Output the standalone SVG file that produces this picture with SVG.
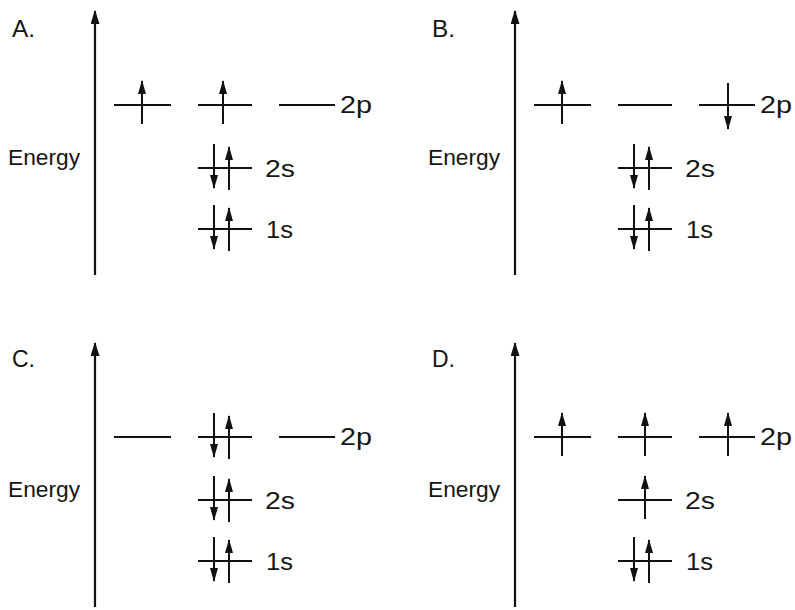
<svg xmlns="http://www.w3.org/2000/svg" width="795" height="610" viewBox="0 0 795 610">
<style>
.ln{stroke:#111;stroke-width:2;fill:none}
.sp{stroke:#111;stroke-width:2;fill:none;marker-end:url(#sh)}
.ax{stroke:#111;stroke-width:2.2;fill:none;marker-end:url(#ah)}
text{font-family:"Liberation Sans",Arial,sans-serif;fill:#151515}
.lb{font-size:22px}
.pl{font-size:23px}
</style>
<defs>
<marker id="sh" viewBox="0 0 14 8" refX="13" refY="4" markerWidth="14" markerHeight="8" orient="auto" markerUnits="userSpaceOnUse"><path d="M0,0 L14,4 L0,8 z" fill="#111"/></marker>
<marker id="ah" viewBox="0 0 14 9" refX="13" refY="4.5" markerWidth="14" markerHeight="9" orient="auto" markerUnits="userSpaceOnUse"><path d="M0,0 L14,4.5 L0,9 z" fill="#111"/></marker>
<g id="up2p"><line class="sp" x1="0" y1="19" x2="0" y2="-24"/></g>
<g id="dn2p"><line class="sp" x1="0" y1="-22" x2="0" y2="24"/></g>
<g id="pair"><line class="sp" x1="-9" y1="-24" x2="-9" y2="20"/><line class="sp" x1="6" y1="22" x2="6" y2="-21"/></g>
</defs>

<!-- Panel A -->
<g id="panelA">
<g id="A-axis"><line class="ax" x1="95" y1="275" x2="95" y2="11"/></g>
<text class="pl" x="12" y="37" textLength="23" lengthAdjust="spacingAndGlyphs">A.</text>
<text class="lb" x="8" y="165" textLength="72" lengthAdjust="spacingAndGlyphs">Energy</text>
<g id="A-2p-1"><line class="ln" x1="114" y1="105" x2="171" y2="105"/><use href="#up2p" x="142" y="105"/></g>
<g id="A-2p-2"><line class="ln" x1="198" y1="105" x2="252" y2="105"/><use href="#up2p" x="223" y="105"/></g>
<g id="A-2p-3"><line class="ln" x1="279" y1="105" x2="335" y2="105"/></g>
<text class="pl" x="340" y="113" textLength="32" lengthAdjust="spacingAndGlyphs">2p</text>
<g id="A-2s"><line class="ln" x1="198" y1="168" x2="252" y2="168"/><use href="#pair" x="223" y="168"/></g>
<text class="pl" x="265" y="177" textLength="30" lengthAdjust="spacingAndGlyphs">2s</text>
<g id="A-1s"><line class="ln" x1="198" y1="229" x2="252" y2="229"/><use href="#pair" x="223" y="229"/></g>
<text class="pl" x="266" y="238" textLength="27" lengthAdjust="spacingAndGlyphs">1s</text>
</g>

<!-- Panel B -->
<g id="panelB" transform="translate(420,0)">
<g id="B-axis"><line class="ax" x1="95" y1="275" x2="95" y2="11"/></g>
<text class="pl" x="12" y="37" textLength="23" lengthAdjust="spacingAndGlyphs">B.</text>
<text class="lb" x="8" y="165" textLength="72" lengthAdjust="spacingAndGlyphs">Energy</text>
<g id="B-2p-1"><line class="ln" x1="114" y1="105" x2="171" y2="105"/><use href="#up2p" x="142" y="105"/></g>
<g id="B-2p-2"><line class="ln" x1="198" y1="105" x2="252" y2="105"/></g>
<g id="B-2p-3"><line class="ln" x1="279" y1="105" x2="335" y2="105"/><use href="#dn2p" x="308" y="105"/></g>
<text class="pl" x="340" y="113" textLength="32" lengthAdjust="spacingAndGlyphs">2p</text>
<g id="B-2s"><line class="ln" x1="198" y1="168" x2="252" y2="168"/><use href="#pair" x="223" y="168"/></g>
<text class="pl" x="265" y="177" textLength="30" lengthAdjust="spacingAndGlyphs">2s</text>
<g id="B-1s"><line class="ln" x1="198" y1="229" x2="252" y2="229"/><use href="#pair" x="223" y="229"/></g>
<text class="pl" x="266" y="238" textLength="27" lengthAdjust="spacingAndGlyphs">1s</text>
</g>

<!-- Panel C -->
<g id="panelC" transform="translate(0,332)">
<g id="C-axis"><line class="ax" x1="95" y1="275" x2="95" y2="11"/></g>
<text class="pl" x="12" y="35" textLength="23" lengthAdjust="spacingAndGlyphs">C.</text>
<text class="lb" x="8" y="165" textLength="72" lengthAdjust="spacingAndGlyphs">Energy</text>
<g id="C-2p-1"><line class="ln" x1="114" y1="105" x2="171" y2="105"/></g>
<g id="C-2p-2"><line class="ln" x1="198" y1="105" x2="252" y2="105"/><use href="#pair" x="223" y="105"/></g>
<g id="C-2p-3"><line class="ln" x1="279" y1="105" x2="335" y2="105"/></g>
<text class="pl" x="340" y="113" textLength="32" lengthAdjust="spacingAndGlyphs">2p</text>
<g id="C-2s"><line class="ln" x1="198" y1="168" x2="252" y2="168"/><use href="#pair" x="223" y="168"/></g>
<text class="pl" x="265" y="177" textLength="30" lengthAdjust="spacingAndGlyphs">2s</text>
<g id="C-1s"><line class="ln" x1="198" y1="229" x2="252" y2="229"/><use href="#pair" x="223" y="229"/></g>
<text class="pl" x="266" y="238" textLength="27" lengthAdjust="spacingAndGlyphs">1s</text>
</g>

<!-- Panel D -->
<g id="panelD" transform="translate(420,332)">
<g id="D-axis"><line class="ax" x1="95" y1="275" x2="95" y2="11"/></g>
<text class="pl" x="12" y="35" textLength="23" lengthAdjust="spacingAndGlyphs">D.</text>
<text class="lb" x="8" y="165" textLength="72" lengthAdjust="spacingAndGlyphs">Energy</text>
<g id="D-2p-1"><line class="ln" x1="114" y1="105" x2="171" y2="105"/><use href="#up2p" x="142" y="105"/></g>
<g id="D-2p-2"><line class="ln" x1="198" y1="105" x2="252" y2="105"/><use href="#up2p" x="225" y="105"/></g>
<g id="D-2p-3"><line class="ln" x1="279" y1="105" x2="335" y2="105"/><use href="#up2p" x="308" y="105"/></g>
<text class="pl" x="340" y="113" textLength="32" lengthAdjust="spacingAndGlyphs">2p</text>
<g id="D-2s"><line class="ln" x1="198" y1="168" x2="252" y2="168"/><use href="#up2p" x="225" y="168"/></g>
<text class="pl" x="265" y="177" textLength="30" lengthAdjust="spacingAndGlyphs">2s</text>
<g id="D-1s"><line class="ln" x1="198" y1="229" x2="252" y2="229"/><use href="#pair" x="223" y="229"/></g>
<text class="pl" x="266" y="238" textLength="27" lengthAdjust="spacingAndGlyphs">1s</text>
</g>
</svg>
